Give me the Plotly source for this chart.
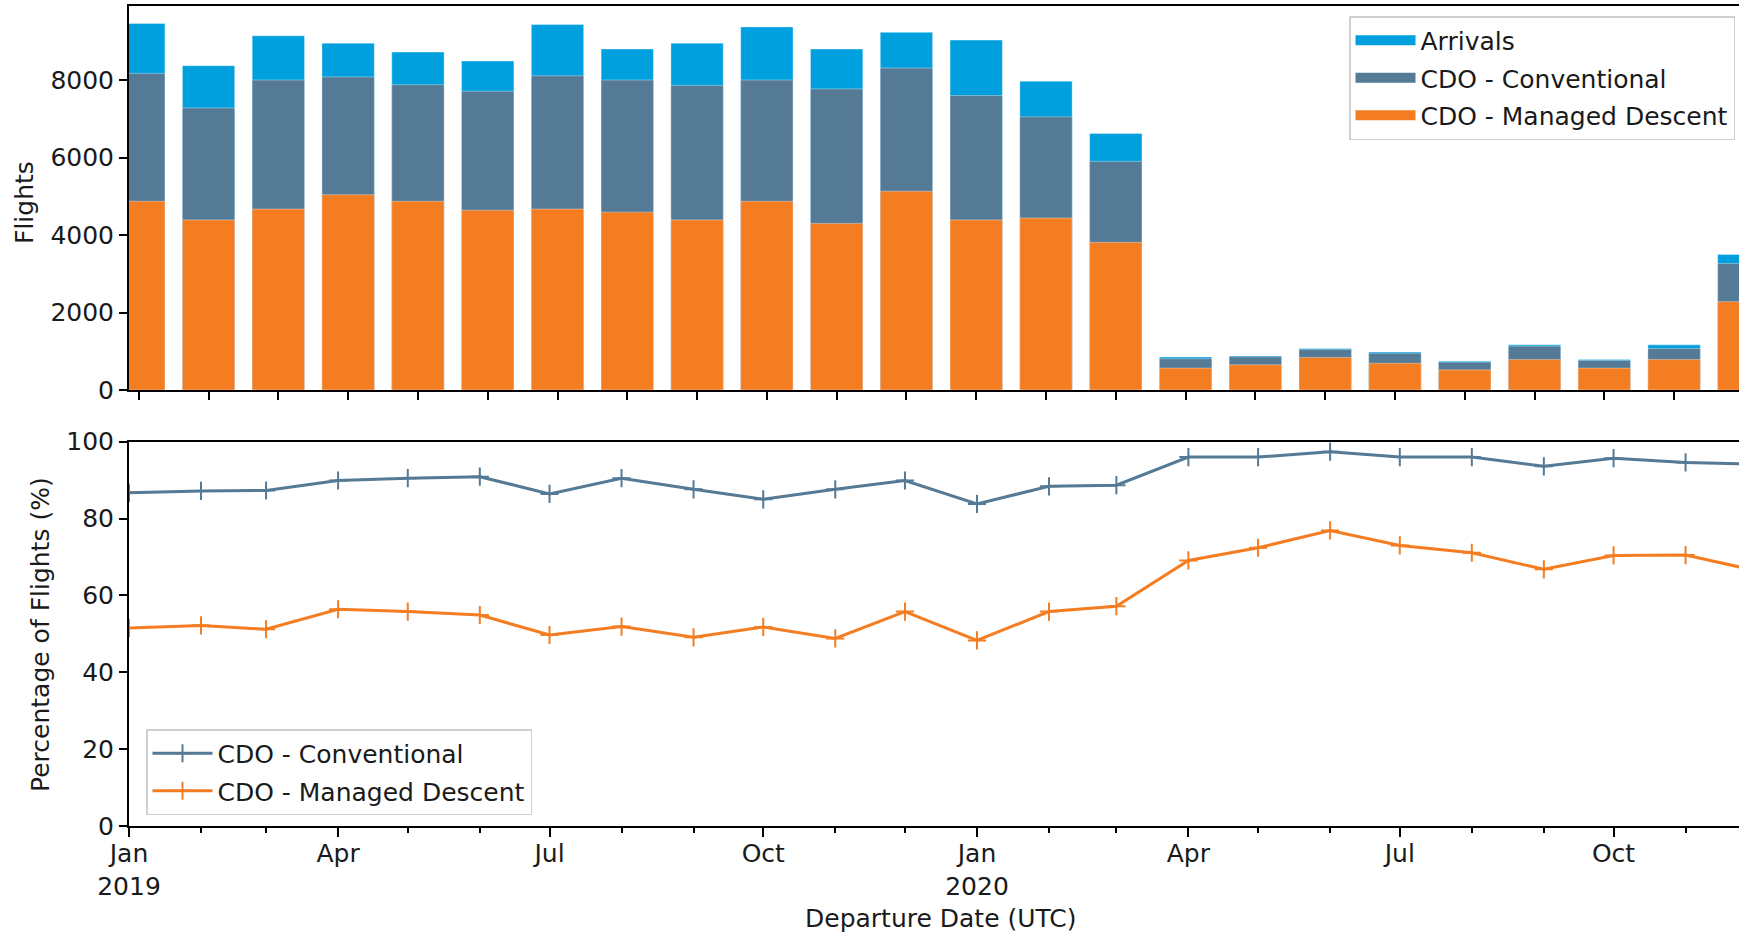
import plotly.graph_objects as go

# ---------------- data ----------------
months = ["2019-01-01", "2019-02-01", "2019-03-01", "2019-04-01", "2019-05-01", "2019-06-01",
          "2019-07-01", "2019-08-01", "2019-09-01", "2019-10-01", "2019-11-01", "2019-12-01",
          "2020-01-01", "2020-02-01", "2020-03-01", "2020-04-01", "2020-05-01", "2020-06-01",
          "2020-07-01", "2020-08-01", "2020-09-01", "2020-10-01", "2020-11-01", "2020-12-01"]

arrivals = [9460, 8370, 9140, 8950, 8720, 8490, 9430, 8800, 8950, 9370, 8800, 9230,
            9030, 7970, 6620, 850, 880, 1070, 980, 745, 1165, 790, 1165, 3500]
cdo_conventional = [8170, 7280, 8000, 8080, 7880, 7710, 8110, 8000, 7860, 8000, 7770, 8310,
                    7600, 7050, 5900, 805, 855, 1045, 950, 718, 1132, 760, 1070, 3265]
cdo_managed = [4870, 4390, 4670, 5040, 4870, 4640, 4670, 4590, 4390, 4870, 4300, 5130,
               4390, 4440, 3810, 565, 650, 840, 690, 520, 785, 565, 785, 2280]

pct_conventional = [86.7, 87.2, 87.3, 89.9, 90.5, 90.9, 86.4, 90.5, 87.6, 85.0, 87.6, 89.9,
                    83.8, 88.4, 88.7, 96.0, 96.0, 97.4, 96.0, 96.0, 93.6, 95.7, 94.6, 94.2]
pct_managed = [51.5, 52.2, 51.2, 56.4, 55.8, 54.9, 49.7, 51.9, 49.1, 51.8, 48.8, 55.8,
               48.3, 55.8, 57.2, 69.1, 72.4, 76.9, 73.0, 71.1, 66.8, 70.4, 70.5, 66.5]

series_names = ["Arrivals", "CDO - Conventional", "CDO - Managed Descent"]
tick_dates = ["2019-01-01", "2019-04-01", "2019-07-01", "2019-10-01",
              "2020-01-01", "2020-04-01", "2020-07-01", "2020-10-01"]
tick_text = ["Jan<br>2019", "Apr", "Jul", "Oct", "Jan<br>2020", "Apr", "Jul", "Oct"]

# ---------------- style ----------------
C_ARR = "#00A0DF"
C_CONV = "#557A95"
C_MAN = "#F47D22"
FONT = "DejaVu Sans"
FS = 25
TXT = "#1a1a1a"

W, H = 1739, 934
ML, MR, MT, MB = 129, 0, 6, 108
PW = W - ML - MR
PH = H - MT - MB


def px_x(p):
    return (p - ML) / PW


def px_y(p):
    return (H - MB - p) / PH


fig = go.Figure()

bar_cols = [C_ARR, C_CONV, C_MAN]
for i, (name, vals, col) in enumerate(zip(series_names, [arrivals, cdo_conventional, cdo_managed],
                                          bar_cols)):
    fig.add_trace(go.Bar(x=months, y=vals, name=name, marker_color=col,
                         marker_line_width=0.6, marker_line_color="rgba(255,255,255,0.6)",
                         width=0.75, xaxis="x", yaxis="y", showlegend=False,
                         legendgroup="b%d" % i))
    # legend entry drawn as a wide swatch (matplotlib-like patch)
    fig.add_trace(go.Scatter(x=[None], y=[None], name=name, mode="lines",
                             line=dict(color=col, width=19), xaxis="x", yaxis="y",
                             legend="legend", legendgroup="b%d" % i, hoverinfo="skip"))

for i, (name, vals, col) in enumerate(zip(series_names[1:], [pct_conventional, pct_managed],
                                          [C_CONV, C_MAN])):
    fig.add_trace(go.Scatter(x=months, y=vals, name=name, mode="lines+markers",
                             line=dict(color=col, width=3),
                             marker=dict(symbol="cross-thin", size=13,
                                         line=dict(color=col, width=2)),
                             xaxis="x2", yaxis="y2", legend="legend2",
                             legendgroup="l%d" % i))

axis_common = dict(showline=True, linecolor="black", linewidth=2, ticks="outside",
                   tickcolor="black", tickwidth=2, showgrid=False, zeroline=False,
                   tickfont=dict(family=FONT, size=FS, color=TXT))

legend_common = dict(xanchor="left", yanchor="top", bgcolor="rgba(255,255,255,0.85)",
                     bordercolor="#d0d0d0", borderwidth=1.5, itemwidth=60,
                     tracegroupgap=2, font=dict(family=FONT, size=FS, color=TXT))

fig.update_layout(
    width=W, height=H,
    margin=dict(l=ML, r=MR, t=MT, b=MB, autoexpand=False),
    paper_bgcolor="white", plot_bgcolor="white",
    barmode="overlay",
    font=dict(family=FONT, size=FS, color=TXT),
    xaxis=dict(axis_common, type="category", domain=[0, 1], anchor="y",
               range=[-0.14, 22.93], showticklabels=False, ticklen=8, mirror=True),
    yaxis=dict(axis_common, domain=[px_y(390), 1], anchor="x", range=[0, 9910],
               tickvals=[0, 2000, 4000, 6000, 8000], ticklen=8),
    xaxis2=dict(axis_common, type="date", domain=[0, 1], anchor="y2",
                range=["2019-01-01", "2020-11-24"], tickvals=tick_dates, ticktext=tick_text,
                ticklen=9, mirror=True,
                minor=dict(ticks="outside", dtick="M1", tick0="2019-01-01", ticklen=5,
                           tickwidth=1.5, tickcolor="black")),
    yaxis2=dict(axis_common, domain=[0, px_y(441.7)], anchor="x2", range=[0, 100],
                tickvals=[0, 20, 40, 60, 80, 100], ticklen=8),
    legend=dict(legend_common, x=px_x(1349), y=px_y(16)),
    legend2=dict(legend_common, x=px_x(146), y=px_y(729)),
    showlegend=True,
)

try:
    fig.update_xaxes(ticklabelstandoff=-5, selector=dict(anchor="y2"))
except Exception:
    pass

fig.add_annotation(text="Flights", xref="paper", yref="paper", x=px_x(24), y=px_y(203),
                   textangle=-90, showarrow=False, xanchor="center", yanchor="middle",
                   font=dict(family=FONT, size=FS, color=TXT))
fig.add_annotation(text="Percentage of Flights (%)", xref="paper", yref="paper",
                   x=px_x(40), y=px_y(635), textangle=-90, showarrow=False,
                   xanchor="center", yanchor="middle",
                   font=dict(family=FONT, size=FS, color=TXT))
fig.add_annotation(text="Departure Date (UTC)", xref="paper", yref="paper",
                   x=px_x(941), y=px_y(918), showarrow=False, xanchor="center",
                   yanchor="middle", font=dict(family=FONT, size=FS, color=TXT))

fig.write_html("out.html", config={"displayModeBar": False},
               post_script="document.body.style.margin='0px';document.body.style.overflow='hidden';")
